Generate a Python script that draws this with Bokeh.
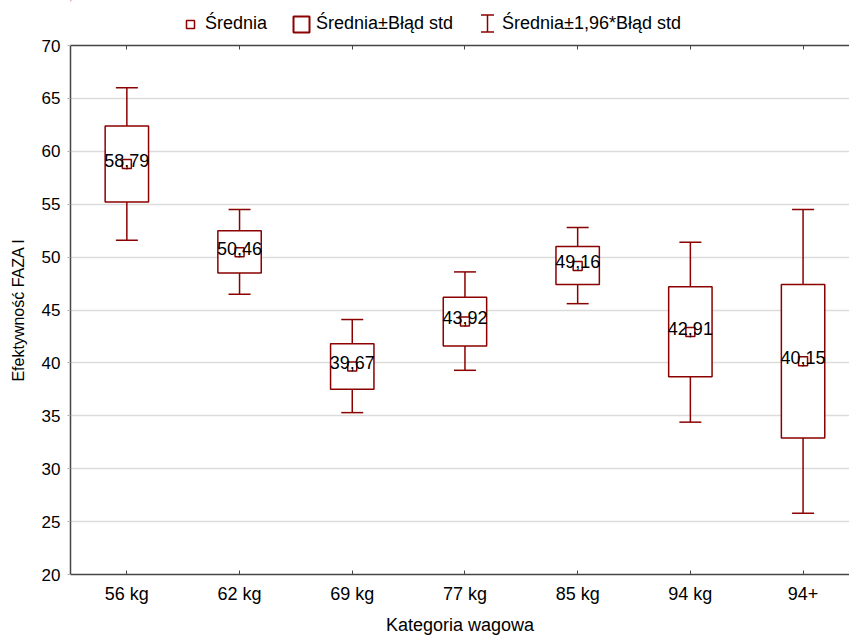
from bokeh.plotting import figure
from bokeh.layouts import column
from bokeh.models import (ColumnDataSource, FixedTicker, LinearAxis, Range1d,
                          Legend, LegendItem, Whisker, TeeHead)
from bokeh.embed import file_html
from bokeh.resources import INLINE
from bokeh.core.properties import value

# ---- data ----
categories = ["56 kg", "62 kg", "69 kg", "77 kg", "85 kg", "94 kg", "94+"]
means = [58.79, 50.46, 39.67, 43.92, 49.16, 42.91, 40.15]
se_low = [55.2, 48.5, 37.5, 41.6, 47.4, 38.7, 32.9]
se_high = [62.4, 52.5, 41.8, 46.2, 51.0, 47.2, 47.4]
ci_low = [51.6, 46.5, 35.3, 39.3, 45.6, 34.4, 25.8]
ci_high = [66.0, 54.5, 44.1, 48.6, 52.8, 51.4, 54.5]
y_ticks = [20, 25, 30, 35, 40, 45, 50, 55, 60, 65, 70]
legend_labels = ["Średnia", "Średnia±Błąd std", "Średnia±1,96*Błąd std"]
x_title = "Kategoria wagowa"
y_title = "Efektywność FAZA I"

RED = "#8B0000"
AXIS = "#444444"
TICK = "#B0B0B0"
GRID = "#DCDCDC"
FONT = "Liberation Sans"

xs = list(range(len(categories)))
BOX_W = 0.385
CAP_HALF = 0.0975

src = ColumnDataSource(dict(
    x=xs,
    mean=means,
    se_low=se_low,
    se_high=se_high,
    ci_low=ci_low,
    ci_high=ci_high,
    cap_l=[v - CAP_HALF for v in xs],
    cap_r=[v + CAP_HALF for v in xs],
    label=[f"{m:.2f}".replace(".", ",") for m in means],
))

LEG_H = 35

# ================= main chart =================
p = figure(width=849, height=637 - LEG_H,
           x_range=Range1d(-0.5, 6.412), y_range=Range1d(20, 70),
           output_backend="svg", toolbar_location=None,
           min_border_left=70, min_border_right=0,
           min_border_top=45 - LEG_H, min_border_bottom=62)
p.outline_line_color = None
p.background_fill_color = "white"
p.border_fill_color = "white"

p.xgrid.visible = False
p.ygrid.ticker = FixedTicker(ticks=y_ticks)
p.ygrid.grid_line_color = GRID
p.ygrid.grid_line_width = 1.5

xa = p.xaxis[0]
xa.ticker = FixedTicker(ticks=xs)
xa.major_label_overrides = {i: c for i, c in enumerate(categories)}
xa.major_tick_in = 4
xa.major_tick_out = 0
xa.minor_tick_in = 0
xa.minor_tick_out = 0
xa.major_tick_line_color = AXIS
xa.minor_tick_line_color = None
xa.axis_line_color = AXIS
xa.axis_line_width = 1.5
xa.major_label_text_font = FONT
xa.major_label_text_font_size = "18px"
xa.major_label_text_color = "black"
xa.major_label_standoff = 9
xa.axis_label = x_title
xa.axis_label_text_font = FONT
xa.axis_label_text_font_size = "18px"
xa.axis_label_text_font_style = "normal"
xa.axis_label_text_color = "black"
xa.axis_label_standoff = 8

ya = p.yaxis[0]
ya.ticker = FixedTicker(ticks=y_ticks)
ya.major_tick_in = 0
ya.major_tick_out = 3
ya.minor_tick_in = 0
ya.minor_tick_out = 0
ya.major_tick_line_color = TICK
ya.minor_tick_line_color = None
ya.axis_line_color = AXIS
ya.axis_line_width = 1.5
ya.major_label_text_font = FONT
ya.major_label_text_font_size = "17px"
ya.major_label_text_color = "black"
ya.major_label_standoff = 7
ya.axis_label = y_title
ya.axis_label_text_font = FONT
ya.axis_label_text_font_size = "16px"
ya.axis_label_text_font_style = "normal"
ya.axis_label_text_color = "black"
ya.axis_label_standoff = 12

# top frame line with inward ticks (ticks as minor ticks -> no labels)
top = LinearAxis(ticker=FixedTicker(ticks=[], minor_ticks=xs))
top.major_tick_in = 0
top.major_tick_out = 0
top.minor_tick_in = 4
top.minor_tick_out = 0
top.minor_tick_line_color = AXIS
top.major_label_standoff = 0
top.axis_line_color = AXIS
top.axis_line_width = 1.5
p.add_layout(top, "above")

p.segment(x0="x", y0="ci_low", x1="x", y1="se_low", source=src,
          line_color=RED, line_width=1.5)
p.segment(x0="x", y0="se_high", x1="x", y1="ci_high", source=src,
          line_color=RED, line_width=1.5)
p.segment(x0="cap_l", y0="ci_low", x1="cap_r", y1="ci_low", source=src,
          line_color=RED, line_width=1.5)
p.segment(x0="cap_l", y0="ci_high", x1="cap_r", y1="ci_high", source=src,
          line_color=RED, line_width=1.5)

p.vbar(x="x", width=BOX_W, bottom="se_low", top="se_high", source=src,
       fill_color="white", line_color=RED, line_width=1.5)

p.scatter(x="x", y="mean", source=src, marker="square", size=9,
          fill_color="white", line_color=RED, line_width=1.5)

p.text(x="x", y="mean", text="label", source=src,
       text_align="center", text_baseline="alphabetic", y_offset=-4,
       text_font=value(FONT), text_font_size="18px", text_color="black")

# ================= legend strip =================
# strip ranges are in pixels (x from the frame's left edge, y from the top)
lf = figure(width=849, height=LEG_H, x_range=Range1d(70, 849),
            y_range=Range1d(LEG_H, 0),
            output_backend="svg", toolbar_location=None,
            x_axis_type=None, y_axis_type=None,
            min_border_left=0, min_border_right=0,
            min_border_top=0, min_border_bottom=0)
lf.outline_line_color = None
lf.xgrid.visible = False
lf.ygrid.visible = False

# swatch renderers (their one point lies far outside the strip's view)
FAR = -5000
l_mean = lf.scatter(x=[FAR], y=[FAR], marker="square", size=9,
                    fill_color="white", line_color=RED, line_width=1.5)
l_box = lf.vbar(x=[FAR], top=[FAR + 1], bottom=[FAR], width=0.5,
                fill_color="white", line_color=RED, line_width=2)
l_ci = lf.quad(left=[FAR], right=[FAR + 1], top=[FAR + 1], bottom=[FAR],
               fill_alpha=0, line_alpha=0)

legend = Legend(items=[
    LegendItem(label=legend_labels[0], renderers=[l_mean]),
    LegendItem(label=legend_labels[1], renderers=[l_box]),
    LegendItem(label=legend_labels[2], renderers=[l_ci]),
], orientation="horizontal", location=(110, 1), margin=0, padding=0,
   spacing=24, label_standoff=5, glyph_width=20, glyph_height=20,
   border_line_color=None, background_fill_alpha=0,
   label_text_font=FONT, label_text_font_size="18px",
   label_text_color="black")
lf.add_layout(legend)

# I-beam swatch of the third legend entry
iw = ColumnDataSource(dict(base=[487], lower=[31.5], upper=[14.5]))
lf.add_layout(Whisker(source=iw, base="base", lower="lower", upper="upper",
                      dimension="height", line_color=RED, line_width=1.5,
                      upper_head=TeeHead(size=13, line_color=RED, line_width=1.5),
                      lower_head=TeeHead(size=13, line_color=RED, line_width=1.5)))

layout = column(lf, p, spacing=0)
open("out.html", "w").write(file_html(layout, INLINE))
